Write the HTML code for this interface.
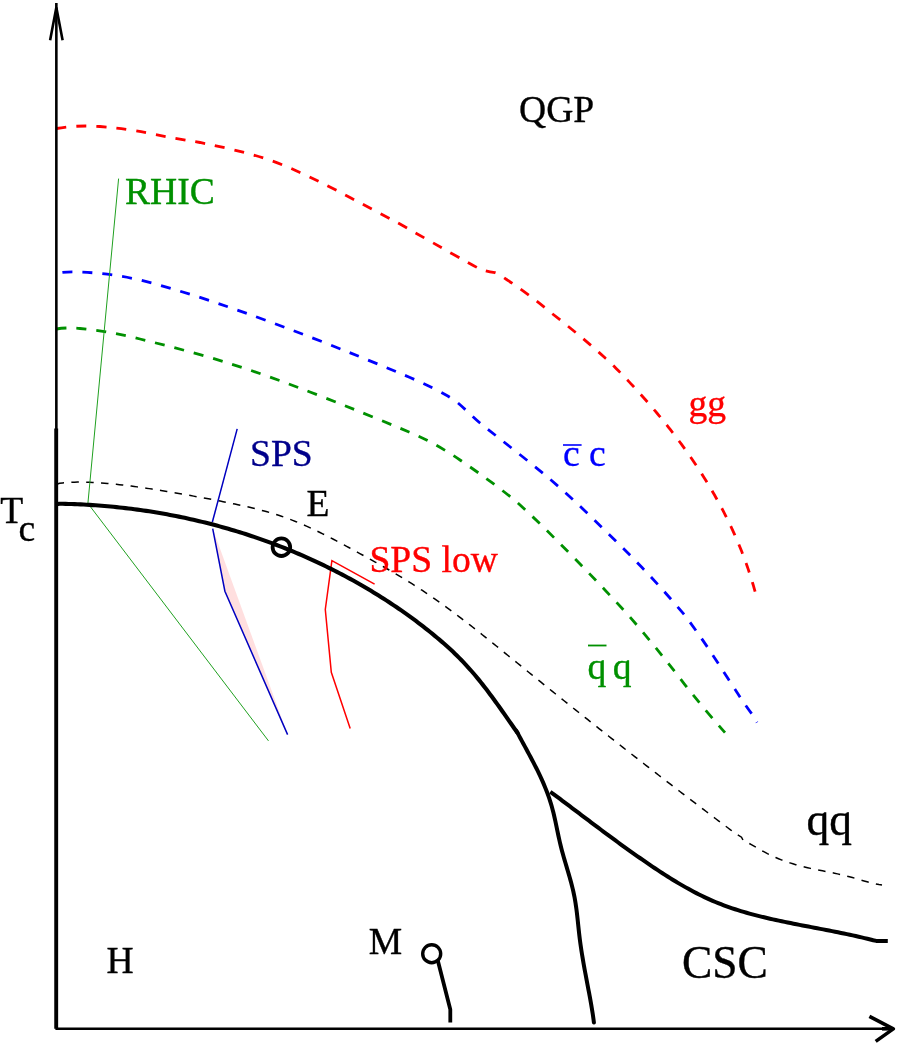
<!DOCTYPE html>
<html>
<head>
<meta charset="utf-8">
<title>QCD phase diagram</title>
<style>
html,body{margin:0;padding:0;background:#fff;}
body{width:899px;height:1045px;overflow:hidden;position:relative;}
svg{display:block;position:absolute;left:0;top:0;will-change:transform;}
text{font-family:"Liberation Serif",serif;}
</style>
</head>
<body>
<svg width="899" height="1045" viewBox="0 0 899 1045">
<rect x="0" y="0" width="899" height="1045" fill="#ffffff"/>

<!-- pink fill next to SPS line -->
<polygon points="212.7,528.6 224.9,591.2 287.6,734.6" fill="#ffdfdf"/>

<!-- dashed dissociation curves -->
<g fill="none" stroke-width="2.8" stroke-dasharray="10 10" stroke-linecap="butt">
<path stroke="#ff0000" d="M56.5,128.5 C70,126 85,125.5 100,126.5 C120,128 135,130.5 150,133.5 C170,137.5 185,140 200,142.5 C220,146.5 235,150 250,154 C270,159.5 285,165.5 300,172.5 C320,181.5 335,189.5 350,197.5 C370,208 385,216 400,224 C420,235.5 435,244 450,252.5 C462,259 472,265 480,269 C485,271 490,272 495,272.7 C499,274 503,277 507.3,280 C522,289.5 537,301 551,312.7 C570,327.5 588,342.5 605.5,358.2  L605.50,358.20 L607.88,360.20 L610.01,362.30 L612.14,364.42 L614.27,366.54 L616.38,368.67 L618.49,370.81 L620.60,372.96 L622.69,375.12 L624.78,377.29 L626.86,379.47 L628.94,381.66 L631.00,383.85 L633.06,386.06 L635.11,388.27 L637.16,390.50 L639.19,392.73 L641.21,394.98 L643.23,397.23 L645.24,399.49 L647.23,401.76 L649.22,404.04 L651.20,406.33 L653.17,408.63 L655.13,410.93 L657.08,413.25 L659.01,415.58 L660.94,417.91 L662.86,420.25 L664.76,422.61 L666.66,424.97 L668.54,427.34 L670.41,429.72 L672.27,432.11 L674.12,434.51 L675.95,436.92 L677.78,439.34 L679.59,441.76 L681.39,444.20 L683.17,446.64 L684.94,449.09 L686.70,451.56 L688.45,454.03 L690.18,456.51 L691.90,459.00 L693.60,461.50 L695.29,464.01 L696.97,466.52 L698.63,469.05 L700.27,471.59 L701.90,474.13 L703.52,476.68 L705.12,479.25 L706.70,481.82 L708.27,484.40 L709.83,486.99 L711.36,489.59 L712.88,492.19 L714.39,494.81 L715.88,497.44 L717.35,500.07 L718.80,502.71 L720.24,505.37 L721.66,508.03 L723.06,510.70 L724.44,513.38 L725.81,516.07 L727.16,518.76 L728.48,521.47 L729.80,524.19 L731.09,526.91 L732.36,529.64 L733.61,532.39 L734.85,535.14 L736.06,537.90 L737.26,540.67 L738.43,543.45 L739.59,546.23 L740.72,549.03 L741.84,551.83 L742.93,554.65 L744.01,557.47 L745.06,560.30 L746.09,563.14 L747.10,565.99 L748.09,568.85 L749.05,571.72 L750.00,574.59 L750.92,577.48 L751.82,580.37 L752.69,583.27 L753.55,586.19 L754.38,589.11 L755.20,592.00"/>
<path stroke="#0000ff" d="M62.4,272.3 C66,271.9 74,271.8 80,272 C100,272.8 120,275.5 140,280 C160,285 180,291 200,297.4 C240,310.5 275,323.5 310,337 C345,350.5 378,364 410,377.5 C424,383.5 437,390 447.8,396 C451,398 455,400.5 458,403 C465,409 472,416 480,423 C503,441.5 528,460.5 551,480 C570,496.5 588,513.5 605.5,531 C618,543 630,555 641.8,567.3 C657,583 671,599 684.6,615 C700,635.5 714,656.5 728,678.6 C737,692.5 745,705 752.5,714.7 L757,722.5"/>
<path stroke="#009000" d="M56.5,329 C62,328 70,327.5 80,328.5 C100,330.5 120,334 140,339 C160,344 180,349 200,354.6 C240,366 275,378.5 310,392 C345,405.5 378,419 409,432 C427,439.5 444,449 460,460 C479,473 497,486 514.5,500 C533,516.5 551,534.5 569,552.7 C589,573 608,593 626.8,613.5 C647,636.5 666,660 684.6,684.3 C699,702.5 712,718 725,732.6"/>
</g>

<!-- thin black dashed curve -->
<path fill="none" stroke="#000000" stroke-width="1.5" stroke-dasharray="7.5 7.35" d="M56.70,484.30 L59.60,483.34 L62.58,482.99 L65.56,482.70 L68.55,482.47 L71.54,482.30 L74.53,482.18 L77.52,482.10 L80.51,482.08 L83.50,482.10 L86.49,482.15 L89.49,482.25 L92.48,482.38 L95.47,482.54 L98.46,482.73 L101.45,482.94 L104.44,483.18 L107.43,483.43 L110.42,483.71 L113.40,484.00 L116.38,484.30 L119.37,484.63 L122.35,484.97 L125.33,485.32 L128.31,485.69 L131.28,486.07 L134.26,486.47 L137.24,486.88 L140.21,487.30 L143.18,487.73 L146.15,488.17 L149.12,488.62 L152.09,489.08 L155.06,489.55 L158.03,490.02 L161.00,490.51 L163.97,491.00 L166.93,491.49 L169.90,491.99 L172.86,492.50 L175.82,493.01 L178.79,493.52 L181.75,494.04 L184.71,494.56 L187.67,495.07 L190.63,495.60 L193.59,496.12 L196.55,496.65 L199.51,497.18 L202.47,497.72 L205.42,498.26 L208.38,498.81 L211.33,499.36 L214.29,499.92 L217.24,500.49 L220.19,501.06 L223.14,501.64 L226.09,502.23 L229.04,502.83 L231.98,503.44 L234.93,504.06 L237.87,504.70 L240.81,505.34 L243.75,505.99 L246.69,506.66 L249.62,507.34 L252.56,508.04 L255.48,508.76 L258.40,509.49 L261.31,510.25 L264.22,511.02 L267.12,511.83 L270.00,512.65 L272.88,513.51 L275.75,514.39 L278.61,515.30 L281.45,516.24 L284.28,517.21 L287.10,518.22 L289.90,519.26 L292.69,520.33 L295.47,521.43 L298.24,522.56 L301.00,523.72 L303.74,524.90 L306.47,526.11 L309.20,527.34 L311.91,528.59 L314.62,529.87 L317.32,531.17 L320.01,532.48 L322.70,533.81 L325.38,535.16 L328.05,536.52 L330.72,537.89 L333.38,539.28 L336.04,540.68 L338.69,542.08 L341.34,543.50 L343.99,544.92 L346.64,546.35 L349.29,547.78 L351.93,549.22 L354.58,550.65 L357.22,552.09 L359.86,553.54 L362.50,554.98 L365.14,556.43 L367.78,557.89 L370.41,559.35 L373.04,560.81 L375.67,562.28 L378.29,563.76 L380.91,565.24 L383.53,566.73 L386.14,568.23 L388.74,569.73 L391.34,571.25 L393.94,572.77 L396.53,574.30 L399.11,575.84 L401.68,577.39 L404.25,578.96 L406.81,580.53 L409.36,582.11 L411.90,583.71 L414.43,585.32 L416.96,586.94 L419.47,588.58 L421.98,590.23 L424.48,591.89 L426.97,593.56 L429.44,595.25 L431.92,596.94 L434.38,598.65 L436.83,600.37 L439.28,602.10 L441.72,603.85 L444.15,605.60 L446.58,607.36 L448.99,609.13 L451.41,610.91 L453.81,612.70 L456.21,614.50 L458.60,616.30 L460.99,618.12 L463.38,619.94 L465.75,621.76 L468.13,623.60 L470.50,625.44 L472.86,627.28 L475.22,629.14 L477.58,630.99 L479.93,632.86 L482.28,634.72 L484.63,636.59 L486.98,638.47 L489.32,640.35 L491.66,642.23 L494.00,644.11 L496.33,646.00 L498.67,647.89 L501.00,649.78 L503.33,651.67 L505.66,653.56 L507.99,655.46 L510.33,657.35 L512.66,659.25 L514.99,661.14 L517.32,663.04 L519.65,664.93 L521.98,666.82 L524.32,668.71 L526.65,670.60 L528.99,672.49 L531.32,674.38 L533.66,676.27 L535.99,678.16 L538.33,680.04 L540.67,681.93 L543.01,683.81 L545.34,685.70 L547.68,687.58 L550.02,689.46 L552.37,691.35 L554.71,693.23 L557.05,695.11 L559.39,696.99 L561.73,698.86 L564.08,700.74 L566.42,702.62 L568.77,704.49 L571.12,706.37 L573.46,708.24 L575.81,710.11 L578.16,711.99 L580.51,713.86 L582.86,715.73 L585.21,717.60 L587.56,719.46 L589.91,721.33 L592.26,723.20 L594.62,725.06 L596.97,726.93 L599.33,728.79 L601.68,730.65 L604.04,732.51 L606.40,734.37 L608.75,736.23 L611.11,738.09 L613.47,739.95 L615.83,741.80 L618.19,743.66 L620.56,745.51 L622.92,747.37 L625.28,749.22 L627.65,751.07 L630.01,752.92 L632.38,754.77 L634.75,756.62 L637.11,758.46 L639.48,760.31 L641.85,762.15 L644.22,763.99 L646.59,765.84 L648.97,767.68 L651.34,769.52 L653.71,771.36 L656.09,773.19 L658.46,775.03 L660.84,776.87 L663.22,778.70 L665.60,780.53 L667.98,782.36 L670.36,784.19 L672.74,786.02 L675.12,787.85 L677.50,789.68 L679.89,791.50 L682.27,793.33 L684.66,795.15 L687.05,796.97 L689.43,798.79 L691.82,800.61 L694.21,802.43 L696.60,804.25 L698.99,806.06 L701.39,807.88 L703.78,809.69 L706.18,811.50 L708.57,813.31 L710.97,815.12 L713.37,816.93 L715.76,818.74 L718.16,820.54 L720.57,822.35 L722.97,824.15 L725.37,825.95 L727.77,827.75 L730.18,829.55 L732.59,831.35 L734.99,833.14 L737.50,834.80 L737.5,834.8 L741.5,837.2 L743.2,840.5 L743.20,840.50 L745.99,841.70 L748.68,843.13 L751.36,844.62 L754.03,846.14 L756.70,847.67 L759.37,849.21 L762.04,850.72 L764.73,852.20 L767.44,853.63 L770.18,854.99 L772.94,856.29 L775.72,857.53 L778.53,858.71 L781.35,859.84 L784.20,860.91 L787.06,861.92 L789.95,862.89 L792.85,863.81 L795.76,864.68 L798.69,865.50 L801.64,866.28 L804.59,867.02 L807.56,867.72 L810.54,868.38 L813.53,869.02 L816.52,869.64 L819.52,870.24 L822.52,870.83 L825.53,871.42 L828.53,872.01 L831.54,872.61 L834.53,873.22 L837.53,873.86 L840.51,874.52 L843.49,875.22 L846.46,875.96 L849.41,876.74 L852.36,877.55 L855.30,878.38 L858.23,879.23 L861.17,880.07 L864.11,880.91 L867.06,881.72 L870.01,882.50 L872.98,883.23 L875.96,883.90 L878.97,884.51 L882.00,885.00"/>

<!-- thin coloured lines -->
<polyline fill="none" stroke="#20a020" stroke-width="1" points="118.6,178.6 87.9,503.4 268.5,740.9"/>
<polyline fill="none" stroke="#0000c0" stroke-width="1.5" points="237.2,428.9 212.3,522.3"/>
<polyline fill="none" stroke="#0000c0" stroke-width="1.5" points="212.7,528.6 224.9,591.2 287.6,734.6"/>
<polyline fill="none" stroke="#ff0000" stroke-width="1.5" points="374.6,584.2 331.9,560.6 325.3,609.5 331.3,672.3 350.2,728.4"/>

<!-- axes -->
<g fill="none" stroke="#000000">
<line x1="56.35" y1="3" x2="56.35" y2="429" stroke-width="2.6"/>
<polyline points="50.1,40.3 56.35,7.5 62.6,40.3" stroke-width="2.6" stroke-linejoin="miter"/>
<line x1="56.2" y1="428.4" x2="56.2" y2="1028.8" stroke-width="3.9"/>
<line x1="55.4" y1="1028.7" x2="892" y2="1028.7" stroke-width="2.45"/>
<line x1="882" y1="1028.8" x2="893" y2="1028.8" stroke-width="3.6"/>
<polyline points="869.4,1016.3 893.3,1028.9 875.7,1041.4" stroke-width="3.6" stroke-linejoin="round"/>
</g>

<!-- thick phase boundaries -->
<g fill="none" stroke="#000000" stroke-linecap="butt" stroke-linejoin="round">
<path stroke-width="4.1" d="M56.60,504.10 L59.59,503.76 L62.59,503.81 L65.59,503.87 L68.59,503.95 L71.59,504.04 L74.59,504.15 L77.59,504.27 L80.59,504.41 L83.58,504.55 L86.58,504.72 L89.58,504.89 L92.57,505.08 L95.57,505.29 L98.56,505.50 L101.55,505.74 L104.55,505.98 L107.54,506.24 L110.53,506.51 L113.51,506.80 L116.50,507.10 L119.49,507.42 L122.47,507.75 L125.45,508.09 L128.43,508.45 L131.41,508.82 L134.39,509.20 L137.37,509.60 L140.34,510.01 L143.31,510.44 L146.28,510.88 L149.25,511.33 L152.21,511.80 L155.18,512.28 L158.14,512.78 L161.09,513.29 L164.05,513.81 L167.00,514.35 L169.95,514.90 L172.90,515.46 L175.85,516.04 L178.79,516.63 L181.73,517.24 L184.67,517.86 L187.60,518.49 L190.53,519.14 L193.46,519.80 L196.38,520.48 L199.30,521.17 L202.22,521.87 L205.13,522.59 L208.04,523.32 L210.95,524.06 L213.85,524.82 L216.75,525.59 L219.65,526.38 L222.54,527.18 L225.43,527.99 L228.31,528.82 L231.19,529.66 L234.07,530.51 L236.94,531.38 L239.81,532.27 L242.67,533.16 L245.53,534.07 L248.38,535.00 L251.23,535.93 L254.07,536.89 L256.91,537.85 L259.75,538.83 L262.58,539.82 L265.40,540.83 L268.23,541.85 L271.04,542.89 L273.85,543.93 L276.66,545.00 L279.45,546.07 L282.25,547.16 L285.04,548.27 L287.82,549.38 L290.60,550.51 L293.37,551.66 L296.14,552.82 L298.90,553.99 L301.65,555.17 L304.40,556.37 L307.14,557.59 L309.88,558.82 L312.61,560.06 L315.34,561.31 L318.05,562.58 L320.77,563.86 L323.47,565.16 L326.17,566.47 L328.86,567.79 L331.55,569.13 L334.23,570.48 L336.90,571.84 L339.57,573.22 L342.23,574.62 L344.88,576.02 L347.52,577.44 L350.16,578.88 L352.79,580.32 L355.41,581.78 L358.03,583.26 L360.64,584.75 L363.24,586.25 L365.83,587.76 L368.42,589.29 L371.00,590.84 L373.57,592.39 L376.13,593.97 L378.68,595.55 L381.23,597.15 L383.77,598.76 L386.30,600.39 L388.82,602.03 L391.33,603.68 L393.83,605.35 L396.33,607.03 L398.81,608.72 L401.29,610.43 L403.75,612.15 L406.20,613.89 L408.65,615.64 L411.08,617.40 L413.51,619.18 L415.92,620.97 L418.32,622.77 L420.71,624.59 L423.09,626.43 L425.46,628.27 L427.81,630.13 L430.15,632.01 L432.48,633.89 L434.80,635.80 L437.11,637.72 L439.40,639.65 L441.67,641.60 L443.93,643.57 L446.17,645.55 L448.39,647.56 L450.59,649.58 L452.78,651.62 L454.94,653.69 L457.08,655.77 L459.20,657.88 L461.30,660.01 L463.37,662.16 L465.42,664.34 L467.44,666.54 L469.44,668.76 L471.42,671.00 L473.38,673.27 L475.31,675.55 L477.23,677.85 L479.13,680.17 L481.00,682.51 L482.87,684.86 L484.71,687.23 L486.54,689.61 L488.36,692.00 L490.17,694.40 L491.96,696.82 L493.74,699.24 L495.51,701.67 L497.27,704.11 L499.02,706.56 L500.76,709.01 L502.50,711.47 L504.23,713.93 L505.96,716.39 L507.68,718.85 L509.40,721.32 L511.12,723.78 L512.84,726.25 L514.55,728.71 L516.27,731.16 L518.00,733.60"/>
<path stroke-width="4.0" stroke-linecap="round" d="M516.10,730.60 L517.71,733.15 L519.11,735.81 L520.52,738.46 L521.94,741.11 L523.37,743.76 L524.81,746.41 L526.25,749.06 L527.68,751.72 L529.11,754.38 L530.54,757.04 L531.96,759.72 L533.36,762.39 L534.75,765.08 L536.12,767.77 L537.47,770.48 L538.79,773.19 L540.09,775.91 L541.36,778.65 L542.59,781.40 L543.79,784.16 L544.95,786.94 L546.07,789.73 L547.15,792.54 L548.19,795.36 L549.18,798.20 L550.12,801.05 L551.01,803.92 L551.85,806.80 L552.63,809.70 L553.38,812.62 L554.08,815.54 L554.76,818.48 L555.41,821.43 L556.04,824.38 L556.66,827.33 L557.28,830.29 L557.89,833.25 L558.52,836.21 L559.16,839.16 L559.83,842.11 L560.52,845.05 L561.25,847.98 L562.02,850.90 L562.81,853.82 L563.63,856.72 L564.47,859.62 L565.32,862.52 L566.18,865.41 L567.04,868.31 L567.90,871.20 L568.75,874.09 L569.58,876.99 L570.39,879.89 L571.18,882.79 L571.94,885.70 L572.66,888.62 L573.34,891.55 L573.97,894.49 L574.56,897.44 L575.09,900.40 L575.58,903.36 L576.02,906.34 L576.43,909.32 L576.81,912.31 L577.16,915.31 L577.50,918.31 L577.82,921.31 L578.13,924.31 L578.45,927.32 L578.77,930.32 L579.10,933.32 L579.45,936.32 L579.82,939.31 L580.21,942.30 L580.63,945.28 L581.07,948.26 L581.52,951.24 L582.00,954.21 L582.49,957.18 L582.99,960.15 L583.50,963.12 L584.03,966.09 L584.57,969.05 L585.11,972.01 L585.67,974.97 L586.22,977.93 L586.79,980.89 L587.35,983.86 L587.92,986.82 L588.48,989.78 L589.04,992.74 L589.60,995.71 L590.15,998.67 L590.68,1001.64 L591.21,1004.61 L591.71,1007.59 L592.20,1010.56 L592.67,1013.54 L593.11,1016.52 L593.53,1019.51 L593.90,1022.50"/>
<path stroke-width="4.0" d="M550.30,791.80 L552.77,793.53 L555.19,795.34 L557.61,797.15 L560.03,798.96 L562.44,800.78 L564.86,802.59 L567.27,804.40 L569.68,806.22 L572.08,808.03 L574.49,809.85 L576.90,811.66 L579.30,813.47 L581.70,815.29 L584.11,817.10 L586.51,818.91 L588.92,820.72 L591.32,822.53 L593.72,824.34 L596.13,826.14 L598.54,827.94 L600.95,829.74 L603.36,831.54 L605.77,833.33 L608.19,835.12 L610.61,836.91 L613.03,838.69 L615.45,840.47 L617.88,842.25 L620.31,844.02 L622.75,845.79 L625.19,847.55 L627.63,849.31 L630.08,851.06 L632.54,852.81 L635.00,854.55 L637.46,856.28 L639.94,858.01 L642.41,859.73 L644.90,861.45 L647.39,863.15 L649.89,864.86 L652.39,866.55 L654.90,868.24 L657.42,869.91 L659.95,871.58 L662.49,873.23 L665.03,874.87 L667.59,876.50 L670.15,878.11 L672.72,879.70 L675.31,881.28 L677.90,882.84 L680.50,884.37 L683.11,885.89 L685.74,887.38 L688.37,888.85 L691.02,890.30 L693.68,891.72 L696.35,893.11 L699.03,894.48 L701.73,895.81 L704.43,897.11 L707.15,898.39 L709.89,899.63 L712.64,900.83 L715.40,902.00 L718.17,903.13 L720.96,904.23 L723.76,905.30 L726.58,906.33 L729.40,907.33 L732.24,908.31 L735.09,909.25 L737.95,910.16 L740.82,911.05 L743.69,911.91 L746.58,912.75 L749.48,913.56 L752.38,914.35 L755.29,915.12 L758.21,915.87 L761.13,916.59 L764.06,917.31 L767.00,918.00 L769.94,918.68 L772.88,919.34 L775.83,919.99 L778.78,920.63 L781.74,921.26 L784.69,921.88 L787.65,922.48 L790.61,923.08 L793.57,923.68 L796.53,924.26 L799.50,924.84 L802.46,925.42 L805.42,926.00 L808.39,926.57 L811.35,927.14 L814.31,927.70 L817.28,928.27 L820.24,928.84 L823.20,929.41 L826.16,929.99 L829.12,930.56 L832.08,931.14 L835.04,931.73 L837.99,932.33 L840.95,932.93 L843.90,933.54 L846.85,934.15 L849.79,934.78 L852.74,935.42 L855.68,936.07 L858.61,936.73 L861.55,937.41 L864.48,938.10 L867.40,938.80 L870.33,939.53 L873.24,940.26 L876.20,940.90 L876.2,940.9 L887.8,941.0"/>
<polyline stroke-width="3.8" points="437.8,960.5 450.3,1009.5 450.3,1022.4"/>
</g>
<circle cx="281.4" cy="547.2" r="8.8" fill="none" stroke="#000000" stroke-width="3.8"/>
<circle cx="431.7" cy="953.7" r="9" fill="#ffffff" stroke="#000000" stroke-width="3.4"/>

<!-- labels -->
<g font-size="37.6px" fill="#000000" stroke="#000000" stroke-width="0.35">
<text x="519" y="122">QGP</text>
<text x="125" y="203.8" fill="#009000" stroke="#009000">RHIC</text>
<text x="250" y="465.6" fill="#00008b" stroke="#00008b">SPS</text>
<text x="306.6" y="515.7">E</text>
<text x="369.4" y="572" fill="#ff0000" stroke="#ff0000">SPS low</text>
<text x="688.5" y="415.8" fill="#ff0000" stroke="#ff0000">gg</text>
<text x="563" y="465.5" fill="#0000ff" stroke="#0000ff">c c</text>
<text x="587.5" y="679.2" fill="#009000" stroke="#009000">q</text>
<text x="612.8" y="679.2" fill="#009000" stroke="#009000">q</text>
<text x="0.3" y="522.6">T</text>
<text x="18.5" y="541.4">c</text>
<text x="106.5" y="973">H</text>
<text x="368.8" y="954">M</text>
</g>
<g font-size="45.4px" fill="#000000" stroke="#000000" stroke-width="0.4">
<text x="682" y="978">CSC</text>
<text x="806.5" y="835">qq</text>
</g>
<line x1="563" y1="445" x2="581.6" y2="445" stroke="#0000ff" stroke-width="1.6"/>
<line x1="588" y1="645.5" x2="606.5" y2="645.5" stroke="#009000" stroke-width="1.8"/>
</svg>
</body>
</html>
